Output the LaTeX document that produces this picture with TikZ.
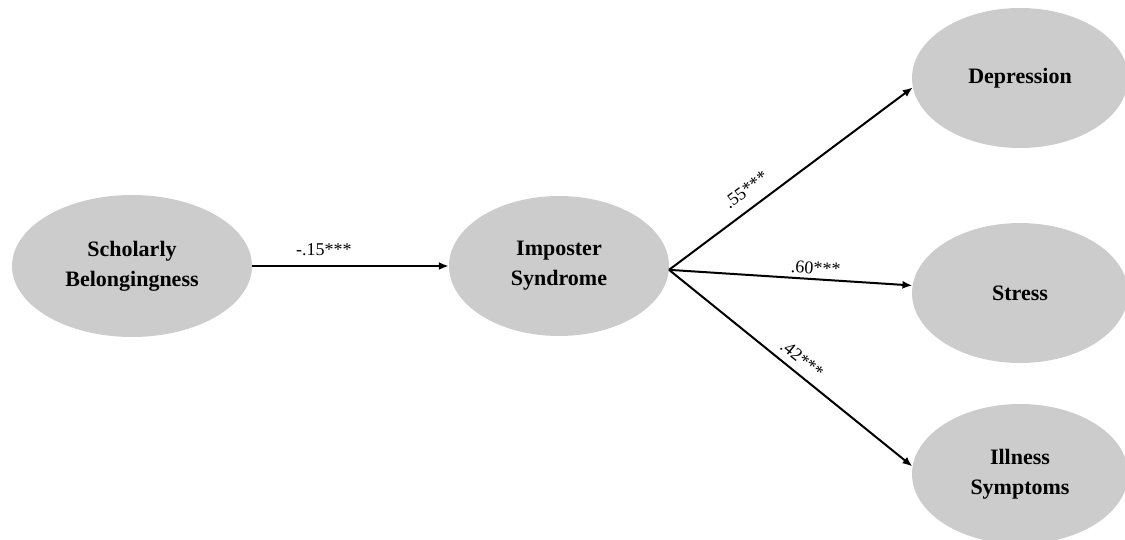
\documentclass[tikz,border=0pt]{standalone}
\usepackage{fontspec}
\setmainfont{Liberation Serif}
\usetikzlibrary{shapes.geometric,arrows.meta}
\definecolor{ellgray}{HTML}{CCCCCC}
\begin{document}
\begin{tikzpicture}[x=1pt,y=-1pt,
  latent/.style={ellipse, fill=ellgray, inner sep=0pt, align=center,
    font=\bfseries\fontsize{22}{30}\selectfont},
  pathline/.style={line width=2pt, -{Latex[length=10pt,width=8pt]}},
  coef/.style={font=\fontsize{18}{20}\selectfont, inner sep=2pt}]
\useasboundingbox (0,0) rectangle (1125,540);
\clip (0,0) rectangle (1125,540);
\node[latent, minimum width=240pt, minimum height=142pt] (sb) at (132,266) {Scholarly\\Belongingness};
\node[latent, minimum width=220pt, minimum height=140pt] (is) at (559,266) {Imposter\\Syndrome};
\node[latent, minimum width=216pt, minimum height=140pt] (dep) at (1020,78) {Depression};
\node[latent, minimum width=216pt, minimum height=140pt] (str) at (1020,293) {Stress};
\node[latent, minimum width=216pt, minimum height=140pt] (ill) at (1020,474) {Illness\\Symptoms};
\coordinate (o) at (is.-2);
\draw[pathline] (sb) -- node[coef, pos=0.365, above=7pt] {-.15***} (is);
\draw[pathline] (o) -- node[coef, pos=0.36, sloped, above=9pt] {.55***} (dep.185);
\draw[pathline] (o) -- node[coef, pos=0.6, sloped, above=2pt] {.60***} (str.176);
\draw[pathline] (o) -- node[coef, pos=0.51, sloped, above=5pt] {.42***} (ill.176);
\end{tikzpicture}
\end{document}
